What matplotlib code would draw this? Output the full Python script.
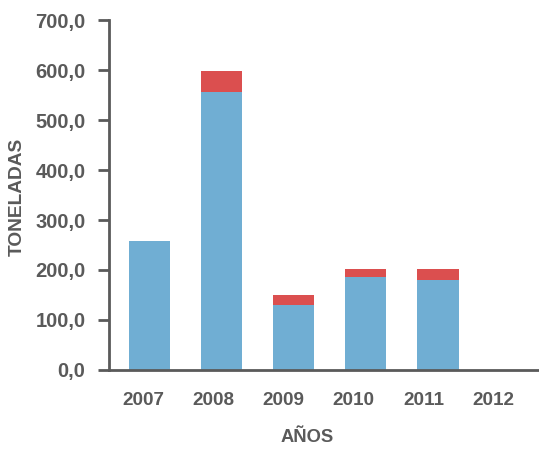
import numpy as np
import matplotlib
matplotlib.use('Agg')
import matplotlib.pyplot as plt
from matplotlib.ticker import FuncFormatter

# data
years = ['2007', '2008', '2009', '2010', '2011', '2012']
blue_vals = [258.0, 556.0, 130.0, 186.0, 180.0, 0.0]
red_vals = [0.0, 42.0, 20.0, 16.0, 22.0, 0.0]
y_ticks = [0, 100, 200, 300, 400, 500, 600, 700]

plt.rcParams['font.family'] = ['Liberation Sans', 'DejaVu Sans']
grey = '#5a5a5a'
blue = '#70aed3'
red = '#db4f4f'

fig = plt.figure(figsize=(5.39, 4.51), dpi=100)
ax = fig.add_axes([109 / 539, 1 - 370 / 451, 1 - 109 / 539, (370 - 20) / 451])

x = np.arange(len(years))
ax.bar(x, blue_vals, width=0.57, color=blue, zorder=2)
ax.bar(x, red_vals, width=0.57, bottom=blue_vals, color=red, zorder=2)

ax.set_xlim(-0.56, 5.4)
ax.set_ylim(0, 700)

# year labels sit a bit left of the bars in the original
ax.set_xticks(x * 0.97 - 0.08)
ax.set_xticklabels(years, fontsize=13.6, fontweight='bold', color=grey)
ax.tick_params(axis='x', length=0, pad=16)

ax.set_yticks(y_ticks)
ax.yaxis.set_major_formatter(FuncFormatter(lambda v, p: f'{v:.1f}'.replace('.', ',')))
ax.tick_params(axis='y', length=8, width=2, color=grey, labelsize=14.5,
               labelcolor=grey, pad=9)
for lbl in ax.get_yticklabels():
    lbl.set_fontweight('bold')

for s in ['top', 'right']:
    ax.spines[s].set_visible(False)
for s in ['left', 'bottom']:
    ax.spines[s].set_color(grey)
    ax.spines[s].set_linewidth(2)

ax.set_ylabel('TONELADAS', fontsize=13.8, fontweight='bold', color=grey)
ax.set_xlabel('AÑOS', fontsize=13.2, fontweight='bold', color=grey)
ax.yaxis.set_label_coords(-92 / 430, (370 - 197) / 350)
ax.xaxis.set_label_coords((307 - 109) / 430, -(438 - 370) / 350)
ax.yaxis.label.set_va('center')
ax.xaxis.label.set_va('center')

fig.savefig('out.png', dpi=100)
